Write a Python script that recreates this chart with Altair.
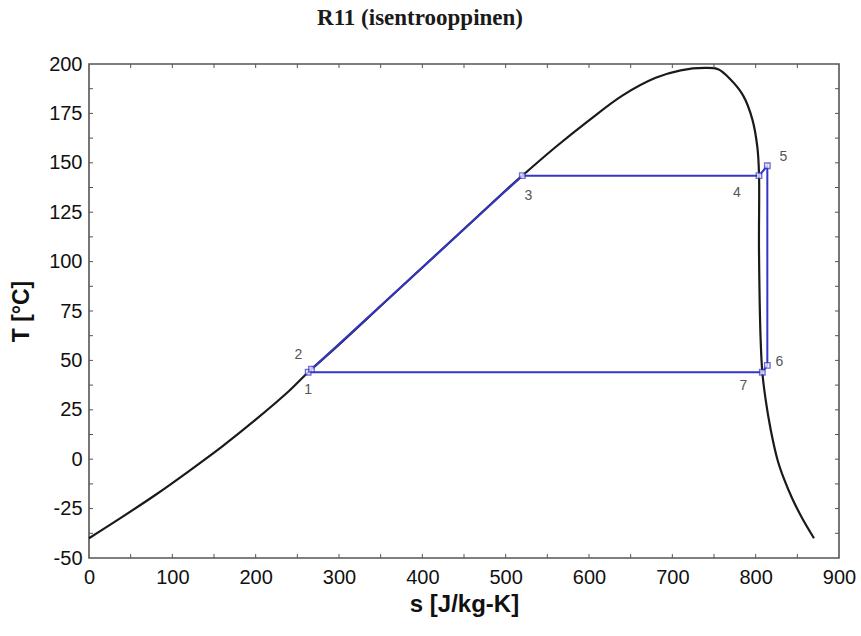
import altair as alt
import pandas as pd

# Saturation dome of R11 (liquid line, critical region, vapour line)
sat_s = [0, 40, 80, 120, 160, 200, 240, 263, 300, 350, 400, 450, 500, 520,
         560, 600, 640, 680, 710, 740, 755, 769, 785, 796, 802, 804, 804, 806, 808,
         812, 818, 826, 834, 844, 856, 870]
sat_T = [-40, -29.2, -18, -6, 6.5, 20, 34.5, 44, 58, 77.5, 97, 116.5, 136, 143.5,
         158, 171.5, 184, 193, 196.8, 198, 197.3, 192.5, 184, 172, 158, 144.5, 106, 60, 44,
         30, 15, 0, -10, -20, -30, -40]

# Cycle state points 1..7 (closed back to 1)
cyc_label = ["1", "2", "3", "4", "5", "6", "7"]
cyc_s = [263, 267, 520, 804, 814, 814, 808]
cyc_T = [44, 45.5, 143.5, 143.5, 148.5, 47.5, 44]

# Tick positions along the frame
x_ticks = list(range(50, 900, 50))
y_ticks = [-50 + 12.5 * i for i in range(1, 20)]

W, H = 750, 494
BLUE = "#3535c8"

sat = pd.DataFrame({"s": sat_s, "T": sat_T, "i": range(len(sat_s))})
cyc = pd.DataFrame({
    "s": cyc_s + [cyc_s[0]],
    "T": cyc_T + [cyc_T[0]],
    "i": range(len(cyc_s) + 1),
})
pts = pd.DataFrame({"s": cyc_s, "T": cyc_T, "lab": cyc_label})

xs = alt.Scale(domain=[0, 900], nice=False, zero=False)
ys = alt.Scale(domain=[-50, 200], nice=False, zero=False)

# plain hyphen for negative numbers
plain_minus = "datum.value < 0 ? '-' + abs(datum.value) : '' + datum.value"

x_axis = alt.Axis(values=list(range(0, 901, 100)), title="s [J/kg-K]",
                  titlePadding=5, labelFlush=False, labelPadding=9,
                  titleFontSize=24)
y_axis = alt.Axis(values=list(range(-50, 201, 25)), title="T [°C]",
                  titlePadding=15, labelFlush=False, labelExpr=plain_minus,
                  labelPadding=7, titleFontSize=23)

X = alt.X("s:Q", scale=xs, axis=x_axis)
Y = alt.Y("T:Q", scale=ys, axis=y_axis)

dome = alt.Chart(sat).mark_line(
    color="#1a1a1a", strokeWidth=2.2, interpolate="catmull-rom"
).encode(x=X, y=Y, order="i:Q")

cycle = alt.Chart(cyc).mark_line(color=BLUE, strokeWidth=2).encode(
    x=X, y=Y, order="i:Q"
)

markers = alt.Chart(pts).mark_point(
    shape="square", size=30, filled=True, fill="white", stroke=BLUE, strokeWidth=1.4
).encode(x=X, y=Y)

# label offsets (dx, dy) for each state point
offsets = {"1": (0, 18), "2": (-13, -14), "3": (6, 20), "4": (-22, 17),
           "5": (16, -9), "6": (12, -3), "7": (-19, 14)}
labels = []
for lab, (dx, dy) in offsets.items():
    labels.append(
        alt.Chart(pts).transform_filter(alt.datum.lab == lab).mark_text(
            dx=dx, dy=dy, fontSize=14, font="Liberation Sans", color="#555555"
        ).encode(x=X, y=Y, text="lab:N")
    )

xt = pd.DataFrame({"s": x_ticks})
yt = pd.DataFrame({"T": y_ticks})
tick_style = dict(color="#555555", strokeWidth=1)
ticks = [
    alt.Chart(xt).mark_rule(**tick_style).encode(
        x=X, y=alt.value(H), y2=alt.value(H - 4)),
    alt.Chart(xt).mark_rule(**tick_style).encode(
        x=X, y=alt.value(0), y2=alt.value(4)),
    alt.Chart(yt).mark_rule(**tick_style).encode(
        y=Y, x=alt.value(0), x2=alt.value(4)),
    alt.Chart(yt).mark_rule(**tick_style).encode(
        y=Y, x=alt.value(W), x2=alt.value(W - 4)),
]

chart = alt.layer(dome, *ticks, cycle, markers, *labels).properties(
    width=W,
    height=H,
    padding={"left": 89, "top": 64, "right": 22, "bottom": 78},
    autosize=alt.AutoSizeParams(type="none"),
    title=alt.TitleParams(
        "R11 (isentrooppinen)", font="Liberation Serif", fontSize=23,
        fontWeight="bold", color="#1a1a1a", offset=24, dx=-44,
    ),
).configure_view(
    stroke="#555555", strokeWidth=1.6
).configure_axis(
    domain=False, ticks=False, grid=False,
    labelFont="Liberation Sans", labelFontSize=20, labelColor="#111111",
    titleFont="Liberation Sans", titleFontWeight="bold",
    titleColor="#111111",
)

chart.save("out.html", embed_options={"renderer": "svg", "actions": False})
